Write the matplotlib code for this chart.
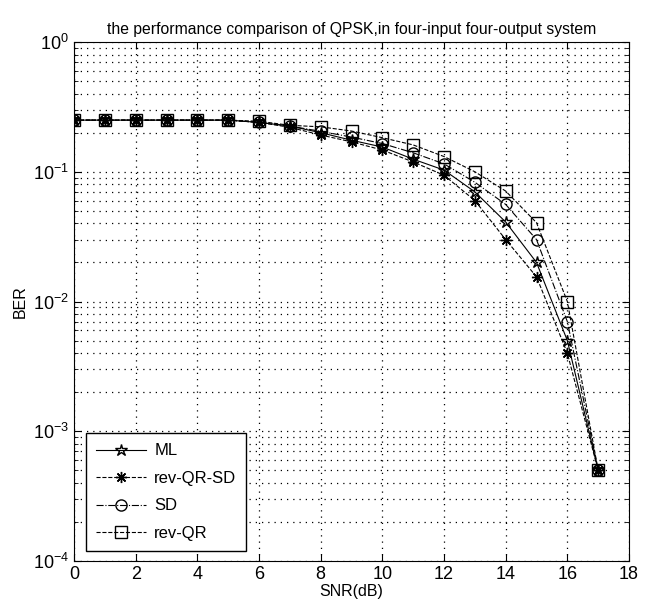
import matplotlib.pyplot as plt
import numpy as np
from matplotlib.ticker import LogLocator, NullFormatter

plt.rcParams['font.family'] = ['Liberation Sans', 'DejaVu Sans']

snr = np.arange(0, 18)
ber_ml = [0.25, 0.25, 0.25, 0.25, 0.25, 0.25, 0.24, 0.225, 0.2, 0.175,
          0.155, 0.125, 0.103, 0.07, 0.041, 0.02, 0.005, 0.0005]
ber_rev_qr_sd = [0.25, 0.25, 0.25, 0.25, 0.25, 0.25, 0.24, 0.22, 0.192, 0.17,
                 0.147, 0.119, 0.094, 0.06, 0.03, 0.0155, 0.004, 0.0005]
ber_sd = [0.25, 0.25, 0.25, 0.25, 0.25, 0.25, 0.24, 0.225, 0.205, 0.185,
          0.165, 0.14, 0.115, 0.083, 0.056, 0.030, 0.007, 0.0005]
ber_rev_qr = [0.25, 0.25, 0.25, 0.25, 0.25, 0.25, 0.245, 0.228, 0.222, 0.206,
              0.183, 0.161, 0.131, 0.1, 0.071, 0.0405, 0.010, 0.0005]

fig = plt.figure(figsize=(6.49, 6.14), dpi=100)
ax = fig.add_axes([74 / 649, 53 / 614, 555 / 649, 519 / 614])

ms = 8
ax.semilogy(snr, ber_ml, 'k-', marker='*', mfc='none', ms=ms + 1, lw=0.8, label='ML')
ax.semilogy(snr, ber_rev_qr_sd, 'k--', marker=(8, 2, 0), ms=ms, lw=0.8, label='rev-QR-SD')
ax.semilogy(snr, ber_sd, 'k-.', marker='o', mfc='none', ms=ms, lw=0.8, label='SD')
ax.semilogy(snr, ber_rev_qr, 'k--', marker='s', mfc='none', ms=ms, lw=0.8, label='rev-QR')

ax.set_xlim(0, 18)
ax.set_ylim(1e-4, 1)
ax.set_xticks(np.arange(0, 19, 2))
ax.yaxis.set_major_locator(LogLocator(base=10, numticks=10))
ax.yaxis.set_minor_locator(LogLocator(base=10, subs=np.arange(2, 10), numticks=10))
ax.yaxis.set_minor_formatter(NullFormatter())

dots = (0, (1, 4))
ax.grid(True, which='major', linestyle=dots, color='k', lw=0.9)
ax.grid(True, which='minor', axis='y', linestyle=dots, color='k', lw=0.9)
ax.tick_params(which='both', direction='in', top=True, right=True, labelsize=13)
ax.tick_params(which='major', length=5)
ax.tick_params(which='minor', length=3)

ax.set_title('the performance comparison of QPSK,in four-input four-output system',
             fontsize=11.3)
ax.set_xlabel('SNR(dB)', fontsize=11.5, labelpad=1)
ax.set_ylabel('BER', fontsize=11.5, labelpad=4)

leg = ax.legend(loc='lower left', bbox_to_anchor=(0.0216, 0.0193), borderaxespad=0,
                fontsize=12, fancybox=False, edgecolor='k', framealpha=1,
                handlelength=3.0, handletextpad=0.5, labelspacing=0.75, borderpad=0.6)
leg.get_frame().set_linewidth(1.0)

fig.savefig('out.png', dpi=100)
